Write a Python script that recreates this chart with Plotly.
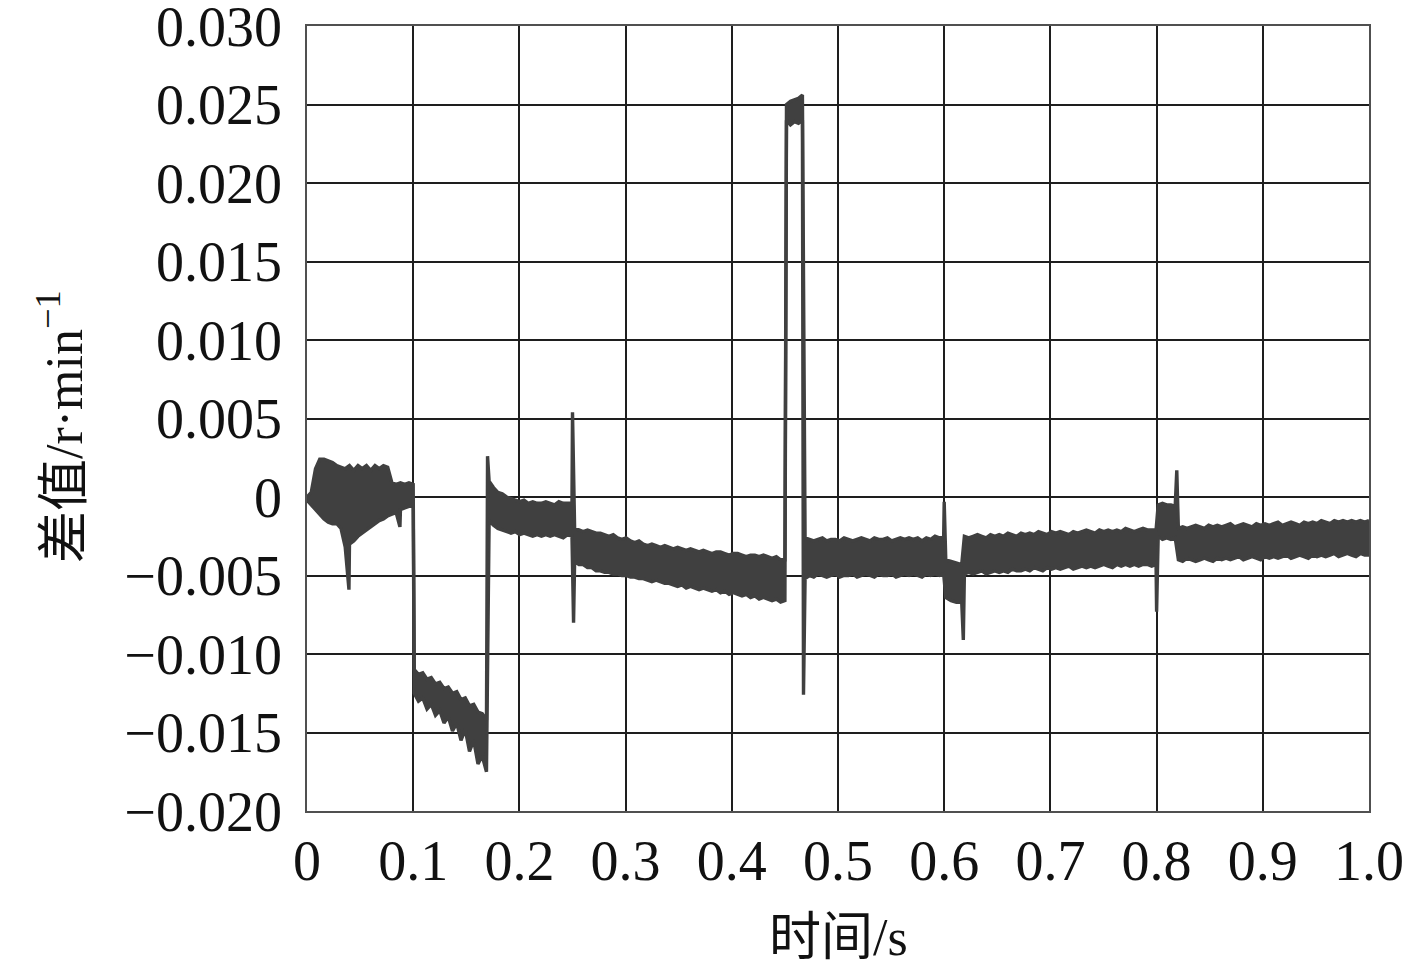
import numpy as np
import plotly.graph_objects as go

# ---- data: upper / lower envelope of the difference signal (units of 1e-4 r/min) ----
UNIT = 1e-4

seg_a_t = (0.000, 0.100)
seg_a_top = [0, 3, 18, 24, 24, 23, 22, 20, 19, 18, 20, 17, 20, 18, 20, 17, 20, 18,
             20, 19, 9, 8, 9, 8, 9, 8]
seg_a_bot = [-2, -5, -8, -11, -14, -16, -17, -17, -20, -32, -30, -28, -25, -23, -21,
             -19, -17, -15, -14, -12, -11, -10, -8, -7, -6, -5]

seg_b_t = (0.101, 0.169)
seg_b_top = [-110, -113, -112, -116, -115, -119, -118, -122, -121, -125, -124, -129,
             -128, -133, -132, -137, -138, -142]
seg_b_bot = [-125, -130, -128, -135, -132, -139, -136, -144, -140, -149, -144, -155,
             -148, -162, -155, -170, -165, -175]

seg_c_t = (0.1715, 0.2495)
seg_c_top = [10, 6, 3, 2, 0, -1, -2, -3, -2, -4, -3, -4, -4, -3, -4, -5, -3, -4, -4, -4]
seg_c_bot = [-15, -18, -20, -21, -22, -23, -22, -24, -23, -24, -25, -24, -25, -24,
             -25, -24, -25, -26, -24, -25]

seg_d_t = (0.252, 0.450)
seg_d_top = [-20, -21, -22, -21, -22, -23, -23, -24, -25, -24, -26, -27, -26, -28, -29,
             -28, -30, -31, -30, -31, -32, -31, -32, -33, -32, -33, -34, -33, -34, -35,
             -34, -35, -36, -35, -35, -36, -37, -36, -36, -37, -38, -37, -37, -38, -37,
             -38, -39, -38, -40, -40]
seg_d_bot = [-41, -43, -43, -45, -45, -47, -47, -48, -48, -49, -49, -50, -50, -51, -51,
             -52, -52, -53, -54, -53, -54, -55, -55, -56, -57, -56, -58, -57, -58, -59,
             -58, -59, -60, -59, -61, -60, -62, -61, -62, -63, -62, -64, -63, -65, -64,
             -65, -66, -65, -67, -66]

seg_e_t = (0.4515, 0.4665)
seg_e_top = [250, 252, 253, 254, 256]
seg_e_bot = [240, 237, 239, 238, 240]

seg_f_t = (0.469, 0.5995)
seg_f_top = [-26, -27, -28, -27, -26, -28, -27, -27, -28, -26, -27, -28, -27, -26, -27,
             -28, -26, -27, -27, -26, -28, -27, -26, -27, -26, -27, -26, -28, -26, -27,
             -25, -26, -25]
seg_f_bot = [-52, -50, -51, -49, -50, -51, -50, -49, -51, -50, -50, -49, -51, -50, -49,
             -50, -51, -49, -50, -50, -49, -51, -50, -49, -50, -49, -50, -51, -49, -50,
             -49, -50, -49]

seg_g_t = (0.6015, 0.6165)
seg_g_top = [-40, -41, -42, -43]
seg_g_bot = [-64, -66, -67, -67]

seg_h_t = (0.619, 0.7995)
seg_h_top = [-25, -26, -25, -24, -25, -26, -24, -25, -24, -25, -23, -24, -25, -23, -24,
             -23, -24, -22, -23, -24, -22, -23, -22, -23, -24, -22, -23, -22, -21, -22,
             -23, -21, -22, -21, -22, -21, -22, -20, -21, -22, -21, -20, -21, -21, -21]
seg_h_bot = [-49, -48, -49, -48, -47, -49, -48, -47, -48, -47, -48, -46, -47, -47, -46,
             -47, -45, -46, -47, -45, -46, -45, -46, -45, -44, -46, -45, -44, -45, -44,
             -45, -44, -43, -44, -45, -43, -44, -43, -44, -43, -44, -43, -43, -44, -43]

seg_i_t = (0.8015, 0.8175)
seg_i_top = [-5, -4, -5, -5, -6]
seg_i_bot = [-25, -27, -26, -27, -26]

seg_j_t = (0.8205, 1.000)
seg_j_top = [-20, -19, -20, -19, -18, -19, -20, -18, -19, -18, -19, -18, -17, -19, -18,
             -17, -18, -19, -17, -18, -17, -18, -17, -16, -18, -17, -16, -17, -18, -16,
             -17, -16, -17, -15, -16, -17, -15, -16, -15, -16, -15, -16, -15, -16, -15]
seg_j_bot = [-40, -41, -39, -40, -41, -40, -39, -40, -41, -39, -40, -39, -40, -39, -38,
             -40, -39, -38, -39, -40, -38, -39, -38, -39, -38, -37, -39, -38, -37, -38,
             -39, -37, -38, -37, -38, -37, -36, -38, -37, -36, -37, -38, -36, -37, -37]

# isolated spikes (time s, value 1e-4)
up_spike_t = [0.1700, 0.2500, 0.6000, 0.8190]
up_spike_v = [26, 54, -3, 17]
down_spike_t = [0.0395, 0.0875, 0.2510, 0.4675, 0.6180, 0.8000]
down_spike_v = [-59, -19, -80, -126, -91, -73]

x_ticks = [0, 0.1, 0.2, 0.3, 0.4, 0.5, 0.6, 0.7, 0.8, 0.9, 1.0]
x_tick_text = ["0", "0.1", "0.2", "0.3", "0.4", "0.5", "0.6", "0.7", "0.8", "0.9", "1.0"]
y_ticks = [-0.020, -0.015, -0.010, -0.005, 0, 0.005, 0.010, 0.015, 0.020, 0.025, 0.030]
y_tick_text = ["\u22120.020", "\u22120.015", "\u22120.010", "\u22120.005", "0",
               "0.005", "0.010", "0.015", "0.020", "0.025", "0.030"]

# ---- assemble ----
segments = [(seg_a_t, seg_a_top, seg_a_bot), (seg_b_t, seg_b_top, seg_b_bot),
            (seg_c_t, seg_c_top, seg_c_bot), (seg_d_t, seg_d_top, seg_d_bot),
            (seg_e_t, seg_e_top, seg_e_bot), (seg_f_t, seg_f_top, seg_f_bot),
            (seg_g_t, seg_g_top, seg_g_bot), (seg_h_t, seg_h_top, seg_h_bot),
            (seg_i_t, seg_i_top, seg_i_bot), (seg_j_t, seg_j_top, seg_j_bot)]
top_pts, bot_pts = [], []
for (t0, t1), top, bot in segments:
    ts = np.linspace(t0, t1, len(top))
    top_pts.extend(zip(ts, top))
    bot_pts.extend(zip(ts, bot))
top_pts.extend(zip(up_spike_t, up_spike_v))
bot_pts.extend(zip(down_spike_t, down_spike_v))
top_pts.sort(key=lambda p: p[0])
bot_pts.sort(key=lambda p: p[0])

FONT = "Liberation Serif, Times New Roman, Noto Sans CJK SC, serif"
COLOR = "#404040"

fig = go.Figure()
fig.add_trace(go.Scatter(x=[p[0] for p in bot_pts], y=[p[1] * UNIT for p in bot_pts],
                         mode="lines", line=dict(color=COLOR, width=3.4),
                         hoverinfo="skip", showlegend=False))
fig.add_trace(go.Scatter(x=[p[0] for p in top_pts], y=[p[1] * UNIT for p in top_pts],
                         mode="lines", line=dict(color=COLOR, width=3.4),
                         fill="tonexty", fillcolor=COLOR,
                         hoverinfo="skip", showlegend=False))

axis_common = dict(showgrid=True, gridcolor="#1e1e1e", gridwidth=1.7,
                   showline=True, linecolor="#505050", linewidth=1.7, mirror=True,
                   zeroline=False, ticks="", ticklabeloverflow="allow",
                   tickfont=dict(family=FONT, size=56, color="#111"))

fig.update_xaxes(range=[0, 1.0], tickvals=x_ticks, ticktext=x_tick_text,
                 ticklabelstandoff=0, **axis_common)
fig.update_yaxes(range=[-0.020, 0.030], tickvals=y_ticks, ticktext=y_tick_text,
                 ticklabelstandoff=12, **axis_common)

fig.add_annotation(text="时间/s", xref="paper", yref="paper",
                   x=0.5, y=(811 - 937) / 785, xanchor="center", yanchor="middle",
                   showarrow=False, font=dict(family=FONT, size=52, color="#111"))
fig.add_annotation(text="差值/r·min<sup>\u22121</sup>", xref="paper", yref="paper",
                   x=(60 - 307) / 1062, y=(811 - 427) / 785, xanchor="center",
                   yanchor="middle", textangle=-90, showarrow=False,
                   font=dict(family=FONT, size=52, color="#111"))

# page body has an 8px margin, so offset the plot area to land on the reference position
fig.update_layout(width=1417, height=975,
                  margin=dict(l=299, r=56, t=18, b=172, autoexpand=False),
                  paper_bgcolor="white", plot_bgcolor="white")

fig.write_html("out.html")
